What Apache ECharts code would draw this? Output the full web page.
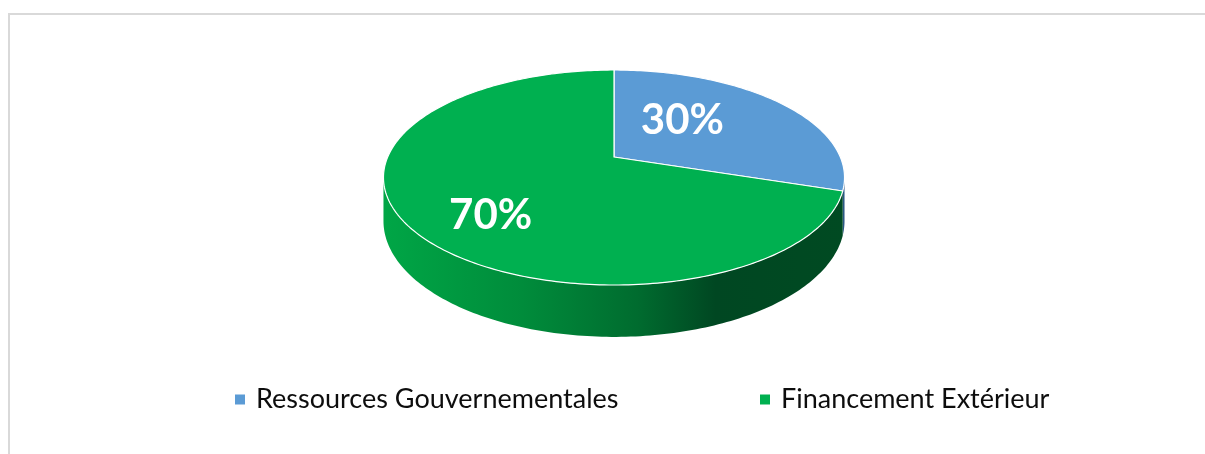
<!DOCTYPE html>
<html>
<head>
<meta charset="utf-8">
<script src="https://cdn.jsdelivr.net/npm/echarts@6/dist/echarts.min.js"></script>
<style>
  html, body { margin: 0; padding: 0; background: #ffffff; }
  #chart { width: 1205px; height: 454px; }
</style>
</head>
<body>
<div id="chart"></div>
<script>
// Funding sources, share of the total (percent)
const categories = ['Ressources Gouvernementales', 'Financement Extérieur'];
const shares = [30, 70];

// Slice colours: top face and the shaded wall of the disc
const topColors = ['#5b9bd5', '#00b050'];
const sideStops = [
  [[0, '#3f78ad'], [1, '#2c5884']],
  [[0, '#00a646'], [0.3, '#008c3b'], [0.55, '#006c2f'], [0.72, '#004722'], [1, '#004a22']]
];

// Tilted-disc layout (pixels): pivot, half-depth of the ellipse, width, perspective, wall height
const disc = { cx: 614, cy: 157, halfDepth: 73.65, halfWidth: 226.3, persp: 0.1907, wall: 42 };
// Where each percentage sits on the face: radius fraction and a small nudge
const labelPlace = [
  { r: 0.45, dx: -10, dy: -10 },
  { r: 0.65, dx: 5, dy: 16 }
];

const total = shares.reduce((a, b) => a + b, 0);
const TWO_PI = Math.PI * 2;

// Point on the disc: theta clockwise from the far side, r in [0,1], drop = depth below the face
function project(theta, r, drop) {
  const u = r * Math.sin(theta);
  const v = r * Math.cos(theta);
  const w = 1 + disc.persp * v;
  return [disc.cx + disc.halfWidth * u / w, (disc.cy - disc.halfDepth * v + drop) / w];
}

function arc(a, b, drop) {
  const pts = [];
  const n = Math.max(2, Math.ceil((b - a) / (Math.PI / 180)));
  for (let i = 0; i <= n; i++) pts.push(project(a + (b - a) * i / n, 1, drop));
  return pts;
}

function sliceAngles(i) {
  let before = 0;
  for (let j = 0; j < i; j++) before += shares[j];
  return [before / total * TWO_PI, (before + shares[i]) / total * TWO_PI];
}

// Horizontal extent of the disc, used for the wall shading
const silhouette = Math.acos(-disc.persp);
const leftEdge = project(TWO_PI - silhouette, 1, 0)[0];
const rightEdge = project(silhouette, 1, 0)[0];

function renderSlice(params, api) {
  const i = params.seriesIndex;
  const share = api.value(0);
  const [a0] = sliceAngles(i);
  const a1 = a0 + share / total * TWO_PI;
  const children = [];

  // visible part of the wall lies between the two silhouette angles
  const s0 = Math.max(a0, silhouette);
  const s1 = Math.min(a1, TWO_PI - silhouette);
  if (s1 > s0) {
    const topRim = arc(s0, s1, 0);
    const botRim = arc(s0, s1, disc.wall).reverse();
    children.push({
      type: 'polygon',
      z2: 0,
      shape: { points: topRim.concat(botRim) },
      style: {
        fill: new echarts.graphic.LinearGradient(leftEdge, 0, rightEdge, 0,
          sideStops[i].map(s => ({ offset: s[0], color: s[1] })), true),
        stroke: null
      }
    });
  }

  // top face of the slice
  children.push({
    type: 'polygon',
    z2: 5,
    shape: { points: [project(0, 0, 0)].concat(arc(a0, a1, 0)) },
    style: { fill: topColors[i], stroke: '#ffffff', lineWidth: 1.2, lineJoin: 'round' }
  });

  // percentage label at the middle of the slice
  const mid = (a0 + a1) / 2;
  const p = project(mid, labelPlace[i].r, 0);
  children.push({
    type: 'text',
    z2: 10,
    style: {
      text: Math.round(share / total * 100) + '%',
      x: p[0] + labelPlace[i].dx,
      y: p[1] + labelPlace[i].dy,
      fill: '#ffffff',
      font: 'bold 42px Lato, "Open Sans", sans-serif',
      align: 'center',
      verticalAlign: 'middle'
    }
  });

  return { type: 'group', children };
}

const chart = echarts.init(document.getElementById('chart'), null, { renderer: 'canvas' });

const legendBase = {
  orient: 'horizontal',
  top: 386,
  padding: 0,
  icon: 'rect',
  itemWidth: 10,
  itemHeight: 10,
  selectedMode: false,
  textStyle: { fontFamily: 'Lato', fontSize: 27, color: '#0d0d0d', padding: [0, 0, 0, 6] }
};

chart.setOption({
  animation: false,
  backgroundColor: '#ffffff',
  color: topColors,
  graphic: [{
    type: 'rect',
    silent: true,
    shape: { x: 9, y: 14, width: 1300, height: 600 },
    style: { fill: null, stroke: '#d9d9d9', lineWidth: 2 }
  }],
  legend: [
    Object.assign({}, legendBase, { left: 235, data: [categories[0]] }),
    Object.assign({}, legendBase, { left: 760, data: [categories[1]] })
  ],
  series: categories.map((name, i) => ({
    type: 'custom',
    name: name,
    coordinateSystem: 'none',
    silent: true,
    itemStyle: { color: topColors[i] },
    renderItem: renderSlice,
    data: [[shares[i]]]
  }))
});
</script>
</body>
</html>
